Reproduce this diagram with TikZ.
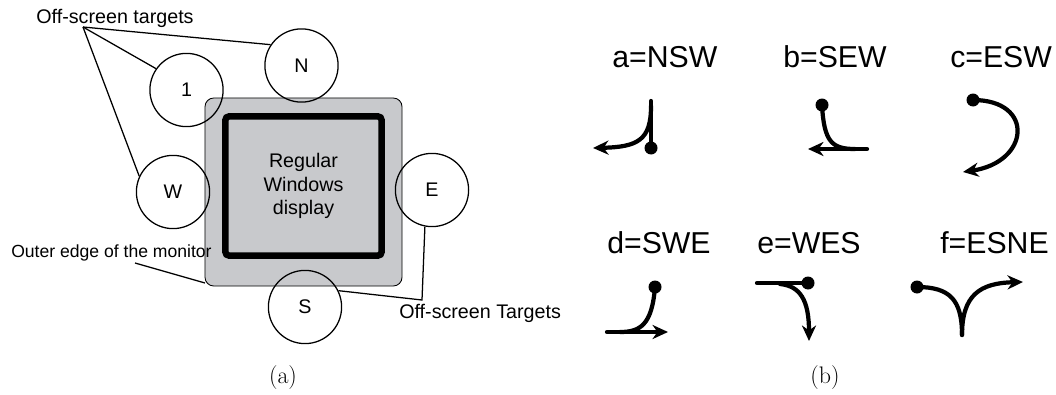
\documentclass[tikz,border=0pt]{standalone}
\usepackage{fontspec}
\setsansfont{Liberation Sans}
\usetikzlibrary{arrows.meta}
\definecolor{bezel}{RGB}{200,201,204}

\begin{document}
\begin{tikzpicture}[x=0.025cm,y=-0.025cm,
  target/.style={draw, circle, line width=0.9pt, inner sep=0pt, minimum size=1.83cm,
    font=\sffamily\fontsize{14}{16}\selectfont},
  callout/.style={font=\sffamily\fontsize{14}{17}\selectfont, inner sep=0pt},
  gesturelabel/.style={font=\sffamily\fontsize{21.5}{25}\selectfont, inner sep=0pt, anchor=base west},
  caption/.style={font=\fontsize{17}{20}\selectfont},
  stroke/.style={line width=3pt, line cap=round},
  gesture/.style={stroke, -{Stealth[length=11pt,width=10pt,inset=3.5pt]}},
  dot/.style={fill=black}]
\useasboundingbox (0,0) rectangle (1056,394);

% monitor and screen
\node[draw, fill=bezel, line width=0.6pt, rounded corners=0.22cm,
  minimum width=4.925cm, minimum height=4.7cm] (monitor) at (303.5,192) {};
\node[draw, line width=4.6pt, rounded corners=0.1cm, minimum width=3.91cm, minimum height=3.485cm,
  align=center, callout] (screen) at (303.5,186) {Regular\\Windows\\display};

% off-screen targets
\node[target] (north) at (301.5,65.5) {N};
\node[target] (one) at (186.5,90) {1};
\node[target] (west) at (173,192) {W};
\node[target] (east) at (432,190) {E};
\node[target] (south) at (305,307) {S};

\node[callout, anchor=base] (offtop) at (115,24) {Off-screen targets};
\node[callout, anchor=base west] (offbottom) at (399,318) {Off-screen Targets};
\node[callout, anchor=base west, font=\sffamily\fontsize{12.5}{15}\selectfont] (edgelabel) at (11,257) {Outer edge of the monitor};

\coordinate (toptip) at (83,27);
\coordinate (joint) at (422,300);
\coordinate (edgetip) at (135,263);
\coordinate (edgeend) at (205,283);

\path[draw,line width=0.9pt] (toptip) -- (north.146);
\path[draw,line width=0.9pt] (toptip) -- (one.145);
\path[draw,line width=0.9pt] (toptip) -- (west.155);
\path[draw,line width=0.9pt] (east.259) -- (joint) -- (south.26);
\path[draw,line width=0.9pt] (edgetip) -- (edgeend);

\node[caption] (capa) at (283,378) {(a)};

% gestures
\node[gesturelabel] (la) at (612,68) {a=NSW};
\node[gesturelabel] (lb) at (783,68) {b=SEW};
\node[gesturelabel] (lc) at (950,68) {c=ESW};
\node[gesturelabel] (ld) at (607,253) {d=SWE};
\node[gesturelabel] (le) at (757,253) {e=WES};
\node[gesturelabel] (lf) at (940,253) {f=ESNE};

% a
\draw[stroke] (651,101) -- (651,148);
\draw[gesture] (651,106) .. controls (651,140) and (638,147) .. (593,148);
\fill[dot] (651,148) circle (6.5);
% b
\draw[gesture] (867,149) -- (808,149);
\draw[stroke] (822,105) .. controls (824,142) and (832,149) .. (855,149);
\fill[dot] (822,105) circle (6.5);
% c
\draw[gesture] (973,100) .. controls (1035,100) and (1030,162) .. (963,172);
\fill[dot] (973,100) circle (6.5);
% d
\draw[gesture] (607,332) -- (668,332);
\draw[stroke] (655,287) .. controls (652,325) and (640,332) .. (620,332);
\fill[dot] (655,287) circle (6.5);
% e
\draw[stroke] (757,283) -- (808,283);
\draw[gesture] (780,284) .. controls (800,286) and (809,300) .. (809,341);
\fill[dot] (808,283) circle (6.5);
% f
\draw[stroke] (917,287) .. controls (950,287) and (962,300) .. (962,335);
\draw[gesture] (962,335) .. controls (962,295) and (980,283) .. (1023,282);
\fill[dot] (917,287) circle (6.5);

\node[caption] (capb) at (825,378) {(b)};
\end{tikzpicture}
\end{document}
